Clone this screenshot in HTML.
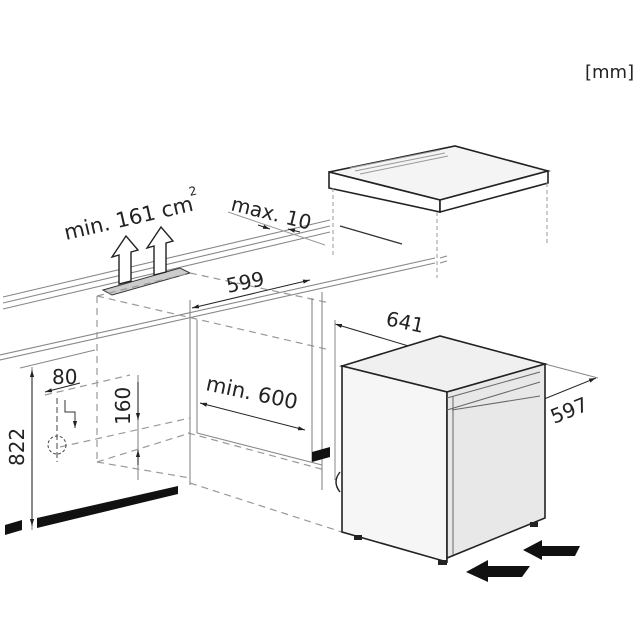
<!DOCTYPE html>
<html><head><meta charset="utf-8"><style>
html,body{margin:0;padding:0;background:#fff;width:640px;height:640px;overflow:hidden}
svg text{font-family:"DejaVu Sans","Liberation Sans",sans-serif;fill:#222}
</style></head><body>
<svg width="640" height="640" viewBox="0 0 640 640" xmlns="http://www.w3.org/2000/svg">
<defs>
<marker id="a" viewBox="0 0 10 10" refX="10" refY="5" markerWidth="7" markerHeight="7" orient="auto-start-reverse"><path d="M0,2 L10,5 L0,8z" fill="#222"/></marker>
</defs>
<text x="585" y="78" font-size="18">[mm]</text>

<!-- worktop panel -->
<g stroke="#222" stroke-width="1.6" fill="#fff">
<polygon points="329,172 455,146 548,171 440,200" fill="#f4f4f4"/>
<polygon points="329,172 440,200 440,212 329,188"/>
<polygon points="440,200 548,171 548,183 440,212"/>
</g>
<g stroke="#999" stroke-width="1">
<line x1="350" y1="168" x2="440" y2="150"/><line x1="355" y1="171" x2="445" y2="153"/><line x1="360" y1="174" x2="448" y2="156"/>
</g>
<g stroke="#999" stroke-width="1" stroke-dasharray="4,3">
<line x1="333" y1="188" x2="333" y2="256"/><line x1="437" y1="212" x2="437" y2="278"/><line x1="547" y1="183" x2="547" y2="245"/>
</g>
<line x1="340" y1="226" x2="402" y2="244" stroke="#333" stroke-width="1.3"/>

<!-- wall rails -->
<g stroke="#888" stroke-width="1.1" fill="none">
<line x1="3" y1="297" x2="330" y2="220"/><line x1="3" y1="303" x2="330" y2="226"/><line x1="3" y1="309" x2="330" y2="232"/>
<line x1="0" y1="355" x2="435" y2="258"/><line x1="0" y1="360" x2="435" y2="263"/>
<line x1="440" y1="258" x2="447" y2="256"/><line x1="440" y1="263" x2="447" y2="261"/>
</g>
<!-- vent -->
<polygon points="103,290 180,268 190,273 112,295" fill="#ccc" stroke="#333" stroke-width="1"/>
<g fill="#fff" stroke="#222" stroke-width="1.4">
<path d="M119,284 L119,255 L112,257 L126,236 L138,250 L131,252 L131,281z"/>
<path d="M154,275 L154,246 L147,248 L161,227 L173,241 L166,243 L166,272z"/>
</g>
<text transform="translate(66,240) rotate(-13)" font-size="21">min. 161 cm</text>
<text transform="translate(190,196) rotate(-13)" font-size="12">2</text>
<text transform="translate(230,210) rotate(14)" font-size="20">max. 10</text>
<line x1="228" y1="212" x2="325" y2="245" stroke="#999" stroke-width="1"/>
<line x1="258" y1="225" x2="270" y2="229" stroke="#222" marker-end="url(#a)"/>
<line x1="300" y1="232" x2="288" y2="229" stroke="#222" marker-end="url(#a)"/>

<!-- cabinet niche -->
<g stroke="#999" stroke-width="1.2" fill="none" stroke-dasharray="7,5">
<line x1="97" y1="296" x2="97" y2="462"/>
<line x1="97" y1="296" x2="190" y2="273"/>
<line x1="190" y1="273" x2="330" y2="303"/>
<line x1="97" y1="296" x2="330" y2="350"/>
<line x1="97" y1="462" x2="190" y2="433"/>
<line x1="97" y1="462" x2="190" y2="478"/>
<line x1="190" y1="483" x2="345" y2="533"/>
<line x1="188" y1="433" x2="325" y2="470"/>
<line x1="60" y1="447" x2="190" y2="418"/>
<line x1="45" y1="395" x2="130" y2="375"/>
</g>
<g stroke="#888" stroke-width="1.1" fill="none">
<line x1="190" y1="300" x2="190" y2="485"/>
<line x1="197" y1="320" x2="197" y2="433"/>
<line x1="312" y1="298" x2="312" y2="462"/>
<line x1="322" y1="292" x2="322" y2="490"/>
<line x1="197" y1="433" x2="322" y2="465"/>
<line x1="32" y1="367" x2="32" y2="530"/>
<line x1="138" y1="375" x2="138" y2="480"/>
<line x1="20" y1="368" x2="95" y2="350"/>
</g>
<!-- dims -->
<line x1="192" y1="308" x2="310" y2="280" stroke="#222" marker-start="url(#a)" marker-end="url(#a)"/>
<text transform="translate(228,293) rotate(-12)" font-size="20">599</text>
<line x1="200" y1="403" x2="305" y2="430" stroke="#222" marker-start="url(#a)" marker-end="url(#a)"/>
<text transform="translate(205,390) rotate(12)" font-size="21">min. 600</text>
<line x1="335" y1="324" x2="442" y2="356" stroke="#222" marker-start="url(#a)" marker-end="url(#a)"/>
<line x1="335" y1="320" x2="335" y2="480" stroke="#888"/>
<line x1="442" y1="350" x2="442" y2="395" stroke="#888"/>
<text transform="translate(385,325) rotate(12)" font-size="20">641</text>
<line x1="512" y1="412" x2="596" y2="378" stroke="#222" marker-start="url(#a)" marker-end="url(#a)"/>
<line x1="545" y1="364" x2="598" y2="378" stroke="#888"/>
<text transform="translate(554,424) rotate(-22)" font-size="20">597</text>
<line x1="32" y1="370" x2="32" y2="526" stroke="#222" marker-start="url(#a)" marker-end="url(#a)"/>
<text transform="translate(24,466) rotate(-90)" font-size="20">822</text>
<line x1="45" y1="392" x2="80" y2="383" stroke="#222" marker-start="url(#a)"/>
<text x="52" y="384" font-size="20">80</text>
<line x1="138" y1="382" x2="138" y2="420" stroke="#222" marker-end="url(#a)"/>
<line x1="138" y1="465" x2="138" y2="450" stroke="#222" marker-end="url(#a)"/>
<text transform="translate(130,425) rotate(-90)" font-size="20">160</text>
<circle cx="57" cy="445" r="9" fill="none" stroke="#444" stroke-dasharray="3,2"/>
<line x1="57" y1="398" x2="57" y2="462" stroke="#444" stroke-dasharray="6,3"/>
<path d="M65,400 L65,412 L75,412 L75,428" stroke="#333" fill="none" marker-end="url(#a)"/>

<!-- floor bars -->
<polygon points="5,525 22,520 22,530 5,535" fill="#111"/>
<polygon points="37,518 178,486 178,494 37,528" fill="#111"/>
<polygon points="312,452 330,447 330,457 312,462" fill="#111"/>

<!-- appliance -->
<g stroke="#222" stroke-width="1.6">
<polygon points="342,366 440,336 545,364 447,392" fill="#f0f0f0"/>
<polygon points="342,366 447,392 447,562 342,532" fill="#f6f6f6"/>
<polygon points="447,392 545,364 545,518 447,558" fill="#e8e8e8"/>
</g>
<g stroke="#666" stroke-width="1" fill="none">
<line x1="453" y1="396" x2="453" y2="555"/>
<line x1="447" y1="398" x2="540" y2="372"/><line x1="447" y1="410" x2="540" y2="382"/>
<line x1="452" y1="410" x2="540" y2="396"/>
</g>
<path d="M340,472 q-8,10 0,20" stroke="#222" fill="none" stroke-width="1.4"/>
<rect x="354" y="535" width="8" height="5" fill="#222"/><rect x="438" y="560" width="9" height="5" fill="#222"/><rect x="530" y="522" width="8" height="5" fill="#222"/>
<!-- push arrows -->
<polygon points="523,550 542,540 542,546 580,546 575,556 542,556 542,560" fill="#111"/>
<polygon points="466,572 488,560 488,566 530,566 522,577 488,577 488,582" fill="#111"/>
</svg>
</body></html>
